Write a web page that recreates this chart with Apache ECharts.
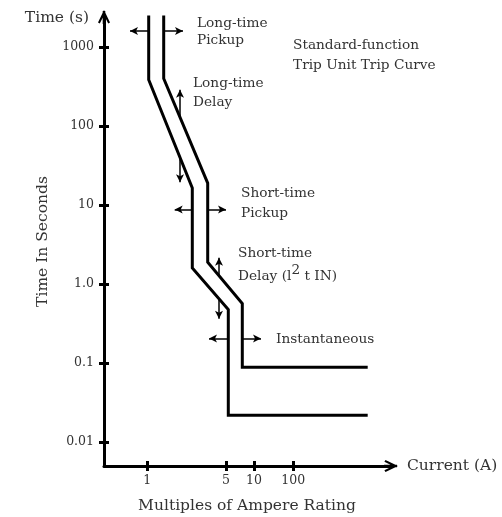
<!DOCTYPE html>
<html>
<head>
<meta charset="utf-8">
<script src="https://cdn.jsdelivr.net/npm/echarts@6/dist/echarts.min.js"></script>
<style>
html,body{margin:0;padding:0;background:#fff;}
#chart{width:502px;height:517px;}
</style>
</head>
<body>
<div id="chart"></div>
<script>
// Tick positions along the (schematic) current axis and their labels
const xTickPos = [43.3, 122, 150, 189.3];
const xTickLabels = ['1', '5', '10', '100'];
// Time axis ticks (seconds, log scale)
const yTickVals = [0.01, 0.1, 1, 10, 100, 1000];
const yTickLabels = ['0.01', '0.1', '1.0', '10', '100', '1000'];

// Lower (minimum) trip curve
const lowerX = [44.7, 44.7, 88.3, 88.3, 124.3, 124.3, 263.7];
const lowerT = [2500, 385, 16.5, 1.6, 0.476, 0.022, 0.022];
// Upper (maximum) trip curve
const upperX = [59.7, 59.7, 103.7, 103.7, 138.3, 138.3, 263.7];
const upperT = [2500, 400, 19, 1.89, 0.567, 0.0887, 0.0887];

// Adjustment arrows: start x, start t, end x, end t
const arrowX1 = [44.7, 59.7, 76, 76, 88.3, 103.7, 115, 115, 124.3, 138.3];
const arrowT1 = [1600, 1600, 127, 40, 8.83, 8.83, 1.27, 0.652, 0.205, 0.205];
const arrowX2 = [26, 79, 76, 76, 70.7, 122, 115, 115, 105, 157];
const arrowT2 = [1600, 1600, 288, 19.4, 8.83, 8.83, 2.16, 0.366, 0.205, 0.205];

const FONT = '"DejaVu Serif", serif';
const TXT = '#333';
const ANN = '13.7px ' + FONT;
const TITLE = 15.5;
const chevron = 'path://M6,0 L12,12.5 L10.2,13.6 L6,5 L1.8,13.6 L0,12.5 Z M4.7,1 L7.3,1 L7.3,14 L4.7,14 Z';

const chart = echarts.init(document.getElementById('chart'), null, {renderer: 'canvas'});

const pair = (xs, ys) => xs.map((x, i) => [x, ys[i]]);
const arrows = arrowX1.map((x, i) => [
  {coord: [x, arrowT1[i]]},
  {coord: [arrowX2[i], arrowT2[i]]}
]);

const grid = {left: 104, right: 111, top: 17, bottom: 51, containLabel: false};
const yRange = {min: 0.005, max: 2400};
const xRange = {min: 0, max: 287};

function text(str, x, y, extra) {
  return {
    type: 'text', x: x, y: y, silent: true,
    style: Object.assign({text: str, font: ANN, fill: TXT, verticalAlign: 'middle', align: 'left'}, extra || {})
  };
}

chart.setOption({
  animation: false,
  grid: grid,
  xAxis: [{
    type: 'value', min: xRange.min, max: xRange.max,
    name: 'Current (A)', nameLocation: 'end', nameGap: 16,
    nameTextStyle: {fontFamily: FONT, fontSize: TITLE, color: TXT, verticalAlign: 'middle'},
    axisLine: {show: true, symbol: ['none', chevron], symbolSize: [12, 14], lineStyle: {color: '#000', width: 3}},
    axisTick: {show: true, inside: false, length: 5, lineStyle: {color: '#000', width: 3}, customValues: xTickPos},
    axisLabel: {show: true, margin: 8, fontFamily: FONT, fontSize: 12.5, color: TXT, customValues: xTickPos,
      formatter: v => xTickLabels[xTickPos.indexOf(v)]},
    splitLine: {show: false}
  }, {
    type: 'value', min: xRange.min, max: xRange.max, position: 'bottom', offset: 0,
    axisLine: {show: false},
    axisTick: {show: true, inside: true, length: 5, lineStyle: {color: '#000', width: 3}, customValues: xTickPos},
    axisLabel: {show: false},
    splitLine: {show: false}
  }],
  yAxis: [{
    type: 'log', logBase: 10, min: yRange.min, max: yRange.max,
    name: 'Time In Seconds', nameLocation: 'middle', nameGap: 43,
    nameTextStyle: {fontFamily: FONT, fontSize: TITLE, color: TXT},
    axisLine: {show: true, symbol: ['none', chevron], symbolSize: [12, 14], lineStyle: {color: '#000', width: 3}},
    axisTick: {show: true, inside: false, length: 5, lineStyle: {color: '#000', width: 3}, customValues: yTickVals},
    axisLabel: {show: true, margin: 10, fontFamily: FONT, fontSize: 12.5, color: TXT, customValues: yTickVals,
      formatter: v => {
        let best = 0, bd = Infinity;
        yTickVals.forEach((t, i) => { const d = Math.abs(Math.log10(t) - Math.log10(v)); if (d < bd) { bd = d; best = i; } });
        return yTickLabels[best];
      }},
    splitLine: {show: false}
  }, {
    type: 'log', logBase: 10, min: yRange.min, max: yRange.max, position: 'left', offset: 0,
    axisLine: {show: false},
    axisTick: {show: true, inside: true, length: 5, lineStyle: {color: '#000', width: 3}, customValues: yTickVals},
    axisLabel: {show: false},
    splitLine: {show: false}
  }],
  series: [{
    type: 'line', name: 'lower', data: pair(lowerX, lowerT), xAxisIndex: 0, yAxisIndex: 0,
    showSymbol: false, symbol: 'none', clip: false, silent: true,
    lineStyle: {color: '#000', width: 3, join: 'miter'},
    markLine: {
      silent: true, symbol: ['none', 'arrow'], symbolSize: [6, 8],
      label: {show: false},
      lineStyle: {color: '#000', width: 1.5, type: 'solid'},
      emphasis: {disabled: true},
      data: arrows
    }
  }, {
    type: 'line', name: 'upper', data: pair(upperX, upperT), xAxisIndex: 0, yAxisIndex: 0,
    showSymbol: false, symbol: 'none', clip: false, silent: true,
    lineStyle: {color: '#000', width: 3, join: 'miter'}
  }],
  graphic: [
    text('Time (s)', 89, 18, {align: 'right', font: TITLE + 'px ' + FONT}),
    text('Multiples of Ampere Rating', 247, 506, {align: 'center', font: TITLE + 'px ' + FONT}),
    text('Long-time', 197, 23),
    text('Pickup', 197, 40),
    text('Standard-function', 293, 45),
    text('Trip Unit Trip Curve', 293, 65),
    text('Long-time', 193, 83),
    text('Delay', 193, 102),
    text('Short-time', 241, 193),
    text('Pickup', 241, 213),
    text('Short-time', 238, 253),
    text('Delay (l{sup|2} t IN)', 238, 276, {rich: {sup: {font: ANN, fill: TXT, padding: [0, 0, 12, 0]}}}),
    text('Instantaneous', 276, 339)
  ]
});
</script>
</body>
</html>
